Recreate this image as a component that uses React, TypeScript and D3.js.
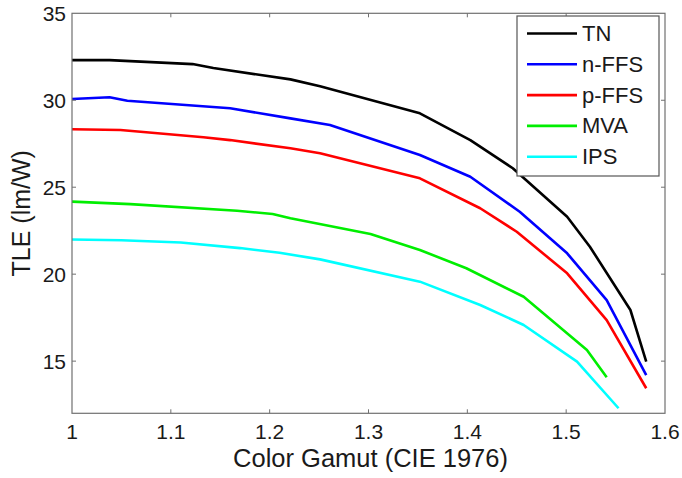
import React from "react";
import * as d3 from "d3";

// Total luminous efficiency vs. color gamut for five LCD modes
const seriesNames = ["TN", "n-FFS", "p-FFS", "MVA", "IPS"];
const seriesColors = ["#000000", "#0000ff", "#ff0000", "#00ee00", "#00ffff"];

const tnGamut = [1.0, 1.038, 1.122, 1.143, 1.221, 1.251, 1.352, 1.403, 1.446, 1.501, 1.524, 1.565, 1.581];
const tnTle = [32.31, 32.31, 32.08, 31.85, 31.2, 30.81, 29.25, 27.71, 26.09, 23.3, 21.58, 17.94, 14.97];

const nffsGamut = [1.0, 1.038, 1.056, 1.16, 1.221, 1.261, 1.352, 1.403, 1.453, 1.501, 1.541, 1.581];
const nffsTle = [30.07, 30.17, 29.97, 29.54, 28.96, 28.58, 26.85, 25.6, 23.59, 21.2, 18.51, 14.2];

const pffsGamut = [1.0, 1.049, 1.133, 1.16, 1.221, 1.251, 1.352, 1.413, 1.45, 1.501, 1.541, 1.581];
const pffsTle = [28.33, 28.29, 27.87, 27.71, 27.24, 26.95, 25.51, 23.79, 22.44, 20.05, 17.36, 13.44];

const mvaGamut = [1.0, 1.059, 1.167, 1.203, 1.221, 1.302, 1.352, 1.399, 1.457, 1.521, 1.541];
const mvaTle = [24.17, 24.03, 23.65, 23.46, 23.21, 22.31, 21.39, 20.34, 18.7, 15.64, 14.07];

const ipsGamut = [1.0, 1.05, 1.11, 1.17, 1.21, 1.251, 1.352, 1.413, 1.457, 1.511, 1.553];
const ipsTle = [21.99, 21.95, 21.82, 21.5, 21.23, 20.85, 19.57, 18.23, 17.08, 14.97, 12.29];

const gamutSets = [tnGamut, nffsGamut, pffsGamut, mvaGamut, ipsGamut];
const tleSets = [tnTle, nffsTle, pffsTle, mvaTle, ipsTle];

const xTicks = [1, 1.1, 1.2, 1.3, 1.4, 1.5, 1.6];
const yTicks = [15, 20, 25, 30, 35];

const W = 682;
const H = 478;
const left = 72;
const right = 665;
const top = 13.3;
const bottom = 413.3;

const FONT = "'Liberation Sans', Arial, sans-serif";
const AXIS = "#707070";

export default function App() {
  const x = d3.scaleLinear().domain([1, 1.6]).range([left, right]);
  const y = d3.scaleLinear().domain([12, 35]).range([bottom, top]);
  const line = d3
    .line<[number, number]>()
    .x((d) => x(d[0]))
    .y((d) => y(d[1]));

  const series = seriesNames.map((name, i) => ({
    name,
    color: seriesColors[i],
    points: gamutSets[i].map((g, j) => [g, tleSets[i][j]] as [number, number]),
  }));

  const tickLen = 4;
  const legend = { x: 517, y: 16, w: 142, h: 160 };

  return (
    <svg
      width={W}
      height={H}
      style={{ position: "absolute", left: 0, top: 0, background: "#fff" }}
      fontFamily={FONT}
    >
      <rect x={0} y={0} width={W} height={H} fill="#fff" />

      {/* data lines */}
      <g fill="none" strokeWidth={2.6} strokeLinejoin="round" strokeLinecap="butt">
        {series.map((s) => (
          <path key={s.name} d={line(s.points) ?? ""} stroke={s.color} />
        ))}
      </g>

      {/* axes box */}
      <rect
        x={left}
        y={top}
        width={right - left}
        height={bottom - top}
        fill="none"
        stroke={AXIS}
        strokeWidth={1.2}
      />

      {/* x ticks (bottom and top), y ticks (left and right) */}
      <g stroke={AXIS} strokeWidth={1}>
        {xTicks.slice(1, -1).map((t) => (
          <g key={"xt" + t}>
            <line x1={x(t)} x2={x(t)} y1={bottom} y2={bottom - tickLen} />
            <line x1={x(t)} x2={x(t)} y1={top} y2={top + tickLen} />
          </g>
        ))}
        {yTicks.slice(0, -1).map((t) => (
          <g key={"yt" + t}>
            <line x1={left} x2={left + tickLen} y1={y(t)} y2={y(t)} />
            <line x1={right} x2={right - tickLen} y1={y(t)} y2={y(t)} />
          </g>
        ))}
      </g>

      {/* tick labels */}
      <g fill="#1a1a1a" fontSize={21}>
        {xTicks.map((t) => (
          <text key={"xl" + t} x={x(t)} y={439} textAnchor="middle">
            {d3.format("~g")(t)}
          </text>
        ))}
        {yTicks.map((t) => (
          <text
            key={"yl" + t}
            x={left - 6}
            y={y(t)}
            textAnchor="end"
            dominantBaseline="central"
          >
            {t}
          </text>
        ))}
      </g>

      {/* axis titles */}
      <text x={(left + right) / 2 + 2} y={467} textAnchor="middle" fontSize={25.5} fill="#1a1a1a">
        Color Gamut (CIE 1976)
      </text>
      <text
        transform={`translate(30, ${(top + bottom) / 2}) rotate(-90)`}
        textAnchor="middle"
        fontSize={25}
        fill="#1a1a1a"
      >
        TLE (lm/W)
      </text>

      {/* legend */}
      <g>
        <rect
          x={legend.x}
          y={legend.y}
          width={legend.w}
          height={legend.h}
          fill="#fff"
          stroke="#555"
          strokeWidth={1.2}
        />
        {series.map((s, i) => {
          const cy = 33.5 + i * 30.8;
          return (
            <g key={"lg" + s.name}>
              <line x1={527} x2={577} y1={cy} y2={cy} stroke={s.color} strokeWidth={2.6} />
              <text x={582} y={cy} dominantBaseline="central" fontSize={22} fill="#1a1a1a">
                {s.name}
              </text>
            </g>
          );
        })}
      </g>
    </svg>
  );
}
